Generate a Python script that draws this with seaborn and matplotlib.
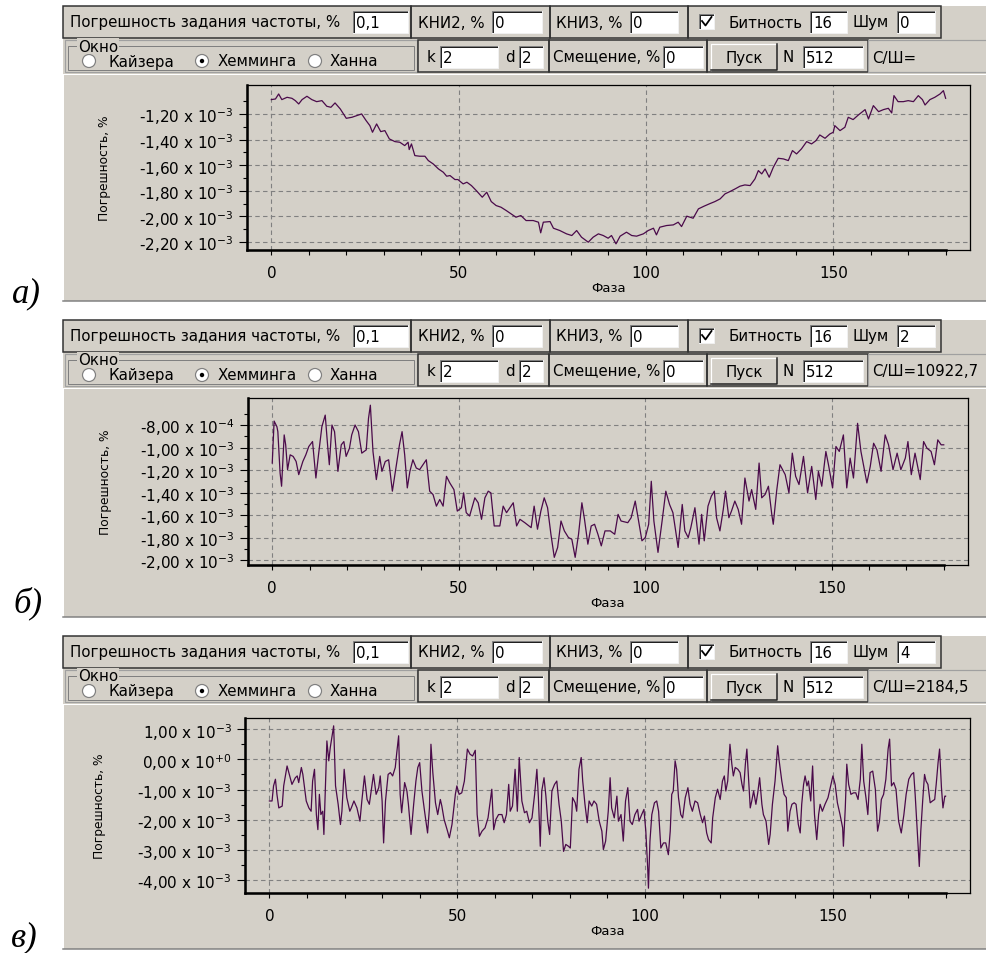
import numpy as np
import pandas as pd
import matplotlib
matplotlib.use("Agg")
import matplotlib.pyplot as plt
import seaborn as sns
from matplotlib.patches import Rectangle, Circle

# ---------------- data (error in units of 1e-3 %) ----------------
phase_a = [0, 1.1, 1.95, 2.8, 4.2, 5.5, 6.4, 7.3, 8.2, 9.5, 10.8, 12.1, 13.5, 14.8, 15.9, 17.0, 18.4, 20.0,
           21.5, 22.8, 24.1, 25.3, 26.3, 27.0, 28.1, 29.2, 30.3, 31.5, 33.0, 34.3, 35.6, 36.5, 36.8, 37.4,
           38.3, 39.6, 41.0, 41.9, 43.2, 44.6, 45.9, 46.8, 47.7, 49.0, 49.8, 51.2, 52.2, 53.4, 54.7, 56.3,
           57.5, 58.7, 60.0, 61.3, 62.7, 64.0, 65.3, 66.6, 68.0, 69.9, 71.3, 71.9, 72.6, 74.4, 75.3, 77.0,
           78.8, 80.2, 81.5, 82.8, 84.6, 85.9, 87.3, 88.6, 89.9, 90.8, 92.0, 93.1, 94.8, 96.2, 97.5, 99.3,
           100.6, 102.0, 102.8, 103.7, 105.5, 107.3, 108.6, 109.5, 110.9, 112.6, 114.0, 115.5, 116.9, 118.4,
           119.8, 121.1, 122.4, 123.8, 125.1, 126.4, 127.8, 129.1, 130.0, 130.9, 131.8, 132.9, 134.0, 135.3,
           136.7, 138.0, 139.1, 140.2, 141.5, 142.9, 144.2, 145.4, 146.4, 147.8, 149.1, 150.0, 150.4, 151.8,
           153.1, 154.0, 155.3, 156.7, 157.6, 158.5, 159.4, 160.7, 162.1, 163.4, 164.7, 165.6, 166.2, 167.3,
           168.7, 170.0, 171.4, 172.7, 173.8, 174.5, 175.8, 177.1, 178.5, 179.4, 180.0]
err_a = [-1.088, -1.083, -1.044, -1.088, -1.070, -1.078, -1.096, -1.122, -1.088, -1.062, -1.088, -1.104,
         -1.096, -1.140, -1.148, -1.114, -1.161, -1.234, -1.226, -1.213, -1.200, -1.252, -1.291, -1.343,
         -1.278, -1.338, -1.330, -1.395, -1.416, -1.421, -1.447, -1.421, -1.478, -1.434, -1.525, -1.530,
         -1.530, -1.564, -1.590, -1.629, -1.655, -1.686, -1.681, -1.712, -1.712, -1.746, -1.733, -1.759,
         -1.798, -1.850, -1.811, -1.884, -1.915, -1.928, -1.954, -1.980, -2.006, -1.993, -2.032, -2.032,
         -2.045, -2.128, -2.045, -2.040, -2.092, -2.110, -2.136, -2.149, -2.110, -2.162, -2.201, -2.162,
         -2.136, -2.149, -2.170, -2.149, -2.214, -2.154, -2.123, -2.149, -2.154, -2.136, -2.110, -2.092,
         -2.144, -2.084, -2.071, -2.066, -2.045, -2.079, -1.998, -2.014, -1.941, -1.920, -1.902, -1.884,
         -1.863, -1.824, -1.806, -1.785, -1.764, -1.754, -1.759, -1.707, -1.642, -1.668, -1.629, -1.694,
         -1.616, -1.546, -1.551, -1.564, -1.486, -1.512, -1.473, -1.416, -1.434, -1.408, -1.364, -1.390,
         -1.356, -1.343, -1.291, -1.330, -1.304, -1.226, -1.244, -1.208, -1.187, -1.166, -1.239, -1.135,
         -1.182, -1.166, -1.156, -1.192, -1.057, -1.104, -1.104, -1.096, -1.104, -1.057, -1.088, -1.130,
         -1.088, -1.070, -1.044, -1.018, -1.078]

phase_b = [0, 0.5, 1.25, 1.5, 2.1, 2.5, 3.2, 3.6, 4.1, 4.8, 5.6, 6.4, 7.1, 8.2, 9.0, 9.8, 10.8, 11.7, 12.4,
           13.3, 14.2, 14.9, 15.3, 16.0, 16.7, 17.6, 18.5, 19.2, 19.8, 20.7, 21.3, 22.2, 23.1, 24.0, 25.2,
           25.8, 26.3, 27.0, 27.9, 28.8, 29.4, 30.3, 31.2, 32.2, 33.0, 34.1, 34.8, 35.5, 36.2, 36.9, 37.7,
           38.6, 39.5, 40.4, 41.3, 42.2, 43.1, 44.0, 44.9, 45.8, 46.7, 47.6, 48.7, 49.6, 50.7, 51.3, 52.0,
           52.9, 54.3, 55.2, 56.1, 57.0, 57.9, 58.6, 59.5, 61.0, 61.9, 62.8, 63.7, 64.6, 65.5, 66.4, 67.7,
           69.4, 70.2, 71.1, 72.0, 72.9, 73.8, 74.7, 75.6, 76.5, 77.4, 78.3, 79.4, 80.3, 81.2, 82.1, 83.0,
           83.7, 84.6, 85.5, 86.4, 87.3, 88.2, 89.2, 90.6, 91.8, 92.7, 93.5, 95.3, 96.2, 97.3, 98.2, 99.1,
           100.0, 100.9, 101.6, 102.3, 103.4, 104.5, 105.5, 106.5, 107.4, 108.8, 109.9, 110.6, 111.5, 112.2,
           113.3, 114.4, 115.1, 115.8, 116.8, 117.7, 118.5, 119.1, 120.0, 120.9, 121.5, 122.4, 123.1, 124.0,
           124.9, 125.8, 126.7, 127.8, 128.5, 129.6, 130.5, 131.2, 132.1, 133.0, 133.9, 134.3, 135.2, 136.1,
           137.5, 138.5, 139.4, 140.3, 141.2, 142.4, 143.5, 144.6, 145.7, 146.4, 147.3, 148.4, 149.1, 150.2,
           151.1, 152.0, 153.1, 154.0, 154.9, 155.8, 156.9, 157.8, 159.4, 160.3, 161.2, 162.1, 163.2, 164.3,
           165.2, 166.4, 167.5, 168.5, 169.7, 170.4, 171.3, 172.3, 173.7, 174.6, 175.5, 176.6, 177.5, 178.4,
           179.3, 180.0]
err_b = [-1.138, -0.765, -0.815, -0.859, -1.226, -1.344, -0.888, -0.976, -1.197, -1.065, -1.079, -1.124,
         -1.241, -1.124, -1.065, -0.991, -0.947, -1.271, -1.065, -0.815, -0.712, -1.006, -1.153, -0.800,
         -0.859, -1.212, -0.976, -0.947, -1.079, -1.006, -0.888, -0.800, -0.859, -1.050, -1.021, -0.741,
         -0.624, -1.035, -1.285, -1.079, -1.212, -1.124, -1.109, -1.388, -1.212, -0.976, -0.859, -1.065,
         -1.359, -1.212, -1.109, -1.182, -1.197, -1.153, -1.109, -1.388, -1.418, -1.521, -1.462, -1.521,
         -1.256, -1.315, -1.374, -1.565, -1.535, -1.403, -1.579, -1.609, -1.447, -1.491, -1.638, -1.447,
         -1.388, -1.403, -1.697, -1.697, -1.521, -1.579, -1.535, -1.491, -1.697, -1.638, -1.668, -1.712,
         -1.521, -1.726, -1.565, -1.447, -1.535, -1.771, -1.976, -1.888, -1.653, -1.741, -1.800, -1.815,
         -1.976, -1.771, -1.491, -1.638, -1.859, -1.697, -1.682, -1.771, -1.874, -1.741, -1.741, -1.771,
         -1.594, -1.653, -1.668, -1.624, -1.476, -1.653, -1.829, -1.800, -1.682, -1.300, -1.653, -1.932,
         -1.653, -1.388, -1.506, -1.579, -1.888, -1.506, -1.741, -1.800, -1.712, -1.535, -1.859, -1.594,
         -1.829, -1.521, -1.432, -1.388, -1.624, -1.741, -1.550, -1.388, -1.624, -1.565, -1.476, -1.550,
         -1.682, -1.271, -1.476, -1.374, -1.550, -1.138, -1.447, -1.418, -1.344, -1.594, -1.682, -1.388,
         -1.153, -1.241, -1.403, -1.050, -1.256, -1.329, -1.079, -1.403, -1.168, -1.462, -1.212, -1.344,
         -1.035, -1.153, -1.359, -0.991, -1.035, -0.888, -1.359, -1.094, -1.271, -0.785, -1.035, -1.315,
         -1.168, -0.962, -1.021, -1.212, -0.888, -0.976, -1.197, -1.050, -1.197, -1.094, -0.947, -1.241,
         -1.050, -1.285, -0.947, -1.006, -1.035, -1.153, -0.932, -0.976, -0.976]

phase_c = [0, 0.7, 1.1, 1.6, 2.0, 2.5, 3.4, 3.8, 4.7, 5.3, 6.0, 6.9, 7.4, 7.8, 8.5, 8.9, 9.8, 10.5, 11.1,
           11.5, 12.0, 12.5, 12.9, 13.3, 13.7, 14.2, 14.5, 15.1, 15.3, 15.8, 16.2, 16.7, 17.1, 17.6, 18.3,
           18.9, 19.3, 19.9, 20.6, 21.4, 21.8, 22.5, 23.3, 24.1, 24.6, 25.3, 26.0, 26.6, 27.1, 27.7, 28.4,
           29.1, 29.5, 30.0, 30.4, 30.9, 31.6, 32.2, 32.8, 33.5, 33.9, 34.4, 34.8, 35.2, 36.0, 36.6, 37.0,
           37.7, 38.4, 39.0, 39.5, 40.0, 40.6, 41.3, 42.1, 42.6, 43.0, 43.5, 44.2, 44.8, 45.5, 45.9, 46.5,
           47.3, 47.9, 48.6, 49.5, 49.9, 50.5, 51.2, 51.9, 52.7, 53.4, 54.1, 54.8, 55.3, 55.9, 56.6, 57.4,
           58.2, 58.8, 59.2, 59.7, 60.3, 61.0, 61.9, 62.5, 63.1, 63.7, 64.1, 64.7, 65.4, 66.0, 66.5, 67.2,
           67.9, 68.5, 69.2, 69.9, 70.6, 71.2, 71.6, 72.1, 72.5, 73.1, 73.6, 74.1, 74.6, 75.2, 75.9, 76.5,
           77.1, 77.7, 78.3, 78.9, 79.6, 80.1, 80.7, 81.4, 81.8, 82.4, 83.0, 83.4, 84.0, 84.6, 85.1, 85.8,
           86.4, 87.1, 87.8, 88.5, 88.9, 89.5, 90.2, 90.7, 91.1, 91.8, 92.5, 92.9, 93.6, 94.2, 94.8, 95.4,
           96.0, 96.6, 97.3, 98.0, 98.4, 99.1, 99.7, 100.2, 100.7, 100.9, 101.3, 101.8, 102.5, 103.1, 103.6,
           104.2, 104.9, 105.5, 106.2, 106.7, 107.1, 107.5, 108.0, 108.4, 108.9, 109.5, 110.0, 110.7, 111.4,
           112.0, 112.6, 113.3, 114.0, 114.7, 115.3, 115.8, 116.4, 116.9, 117.6, 118.0, 118.7, 119.3, 120.0,
           120.6, 121.1, 121.5, 122.0, 122.6, 123.1, 123.5, 124.0, 124.7, 125.3, 125.8, 126.2, 126.7, 127.1,
           127.6, 128.0, 128.4, 128.9, 129.5, 130.0, 130.5, 131.1, 131.5, 132.2, 132.9, 133.3, 133.9, 134.6,
           135.3, 135.7, 136.4, 137.0, 137.6, 138.0, 138.6, 139.1, 139.7, 140.2, 140.8, 141.3, 141.7, 142.2,
           142.6, 143.1, 143.5, 144.1, 144.6, 145.1, 145.7, 146.2, 146.6, 147.2, 147.9, 148.7, 149.3, 150.0,
           150.6, 151.2, 151.9, 152.6, 152.8, 153.3, 153.7, 154.2, 154.8, 155.5, 156.1, 156.7, 157.3, 157.7,
           158.2, 158.8, 159.3, 159.9, 160.6, 161.3, 161.9, 162.4, 162.9, 163.5, 164.1, 164.7, 165.1, 165.6,
           166.2, 166.8, 167.5, 168.2, 168.9, 169.5, 170.2, 170.9, 171.5, 171.9, 172.6, 173.0, 173.4, 173.9,
           174.4, 174.8, 175.3, 175.9, 176.5, 177.1, 177.5, 178.0, 178.4, 178.9, 179.3, 179.8, 180.0]
err_c = [-1.38, -1.38, -0.88, -0.66, -1.16, -1.61, -1.55, -0.88, -0.22, -0.50, -0.83, -0.61, -0.55, -0.77,
         -0.27, -0.50, -1.38, -1.61, -1.72, -0.72, -0.33, -1.83, -2.33, -1.16, -1.83, -1.72, -2.49, -0.16,
         0.61, -0.05, 0.39, 0.78, 1.11, -0.88, -1.49, -2.16, -1.72, -0.33, -1.27, -1.72, -1.61, -1.38,
         -1.61, -2.05, -1.38, -0.55, -1.33, -1.49, -1.05, -0.50, -1.16, -0.94, -0.55, -1.38, -2.77, -1.38,
         -0.50, -0.44, -0.55, -0.27, 0.22, 0.78, -1.16, -1.77, -0.77, -1.05, -1.49, -2.49, -1.49, -0.72,
         -0.27, -0.11, -1.05, -1.72, -2.44, -1.61, 0.50, -0.44, -1.44, -1.83, -1.33, -1.55, -1.99, -2.33,
         -2.60, -2.16, -1.16, -0.88, -1.16, -1.11, -0.72, 0.34, 0.17, 0.11, 0.30, -1.83, -2.55, -2.38,
         -2.27, -1.94, -1.38, -0.99, -2.33, -1.99, -1.83, -1.83, -2.10, -1.83, -0.83, -1.72, -1.55, -0.33,
         -1.72, 0.06, -1.38, -1.77, -1.72, -2.10, -1.94, -1.16, -0.33, -1.27, -2.88, -1.05, -0.61, -1.22,
         -2.05, -2.49, -1.05, -0.83, -0.72, -1.49, -2.05, -3.05, -2.82, -2.88, -2.94, -1.27, -1.44, -1.72,
         -0.33, 0.06, -0.72, -1.49, -2.10, -1.38, -1.55, -1.38, -1.49, -2.05, -2.38, -2.99, -2.71, -1.72,
         -0.61, -1.61, -1.94, -1.22, -2.05, -1.83, -2.71, -1.38, -0.94, -2.05, -2.16, -1.83, -1.66, -2.05,
         -1.83, -1.66, -2.38, -3.60, -4.27, -2.71, -1.83, -1.44, -1.38, -1.72, -2.94, -2.77, -2.77, -3.16,
         -2.38, -1.16, -1.05, -0.05, -0.33, -1.27, -1.83, -1.94, -1.27, -0.94, -1.49, -1.72, -1.38, -1.44,
         -1.83, -2.10, -1.88, -2.44, -2.66, -2.77, -1.94, -1.27, -0.99, -1.33, -0.72, -0.55, -1.05, -0.72,
         0.50, -0.16, -0.55, -0.27, -0.33, -0.44, -0.83, -1.05, -0.16, 0.34, -0.72, -1.61, -1.38, -1.05,
         -1.49, -1.11, -0.61, -1.49, -1.83, -2.05, -2.82, -2.49, -1.49, -0.72, 0.45, -0.05, -0.72, -1.16,
         -1.27, -2.38, -1.72, -1.49, -1.44, -1.49, -2.16, -2.44, -1.49, -0.83, -0.55, -0.88, -0.72, -1.38,
         -0.22, -1.83, -2.66, -1.83, -1.49, -1.72, -1.49, -1.27, -0.94, -0.55, -0.83, -1.44, -1.83, -2.27,
         -2.88, -1.61, -0.16, -0.83, -1.16, -1.11, -1.11, -1.33, -0.66, 0.50, -0.72, -1.27, -1.83, -0.44,
         -0.39, -0.99, -2.38, -2.05, -1.33, -1.16, -0.66, 0.34, 0.67, -0.88, -0.77, -0.99, -2.05, -2.44,
         -1.83, -1.16, -0.66, -0.50, -0.44, -1.16, -2.71, -3.55, -2.38, -1.38, -0.50, -0.72, -0.83, -1.44,
         -1.38, -1.33, -0.83, -0.11, 0.34, -0.94, -1.61, -1.22, -1.22]

# tick values / labels
xticks_major = [0, 50, 100, 150]
xtick_labels = ["0", "50", "100", "150"]
yticks_a = [-1.2, -1.4, -1.6, -1.8, -2.0, -2.2]
ylabels_a = ["-1,20 x 10$^{-3}$", "-1,40 x 10$^{-3}$", "-1,60 x 10$^{-3}$", "-1,80 x 10$^{-3}$",
             "-2,00 x 10$^{-3}$", "-2,20 x 10$^{-3}$"]
yticks_b = [-0.8, -1.0, -1.2, -1.4, -1.6, -1.8, -2.0]
ylabels_b = ["-8,00 x 10$^{-4}$", "-1,00 x 10$^{-3}$", "-1,20 x 10$^{-3}$", "-1,40 x 10$^{-3}$",
             "-1,60 x 10$^{-3}$", "-1,80 x 10$^{-3}$", "-2,00 x 10$^{-3}$"]
yticks_c = [1.0, 0.0, -1.0, -2.0, -3.0, -4.0]
ylabels_c = ["1,00 x 10$^{-3}$", "0,00 x 10$^{+0}$", "-1,00 x 10$^{-3}$", "-2,00 x 10$^{-3}$",
             "-3,00 x 10$^{-3}$", "-4,00 x 10$^{-3}$"]
noise_vals = ["0", "2", "4"]
snr_texts = ["С/Ш=", "С/Ш=10922,7", "С/Ш=2184,5"]
panel_letters = ["а)", "б)", "в)"]

# ---------------- figure ----------------
W, H = 987, 954
GRAY = "#D4D0C8"
DARK = "#303030"
SHADOW = "#808080"
LINE = "#4A0A4A"
UIFS = 10.8

fig = plt.figure(figsize=(W / 100, H / 100), dpi=100)
fig.patch.set_facecolor("white")
bg = fig.add_axes([0, 0, 1, 1], zorder=0)
bg.set_xlim(0, W)
bg.set_ylim(H, 0)
bg.axis("off")

PX = 0.72  # one pixel in points


def rect(x0, y0, x1, y1, fc="none", ec=DARK, lw=1.0, z=1):
    bg.add_patch(Rectangle((x0, y0), x1 - x0, y1 - y0, facecolor=fc, edgecolor=ec,
                           linewidth=lw * PX, zorder=z))


def txt(x, y, s, fs=UIFS, **kw):
    bg.text(x, y, s, fontsize=fs, va="center", ha="left", color="black",
            family="DejaVu Sans", zorder=5, **kw)


def field(x0, y0, x1, y1, s):
    rect(x0, y0, x1, y1, fc="white", ec="none", z=2)
    bg.plot([x0, x0, x1], [y1, y0, y0], color=SHADOW, lw=PX, zorder=3)
    bg.plot([x0 + 1, x0 + 1, x1 - 1], [y1 - 1, y0 + 1, y0 + 1], color="#202020", lw=PX, zorder=3)
    bg.plot([x0, x1, x1], [y1, y1, y0], color="#F0F0F0", lw=PX, zorder=3)
    txt(x0 + 3, (y0 + y1) / 2 + 0.5, s)


def radio(cx, cy, on):
    bg.add_patch(Circle((cx, cy), 6.5, facecolor="white", edgecolor=SHADOW, linewidth=1.2 * PX, zorder=3))
    if on:
        bg.add_patch(Circle((cx, cy), 2.2, facecolor="black", edgecolor="none", zorder=4))


def ui_panel(T, B, noise, snr):
    rect(63, T, W, B, fc=GRAY, ec="none", z=0.5)
    # row 1
    r1a, r1b = T, T + 32
    for x0, x1 in [(63, 411), (411, 550), (550, 688), (688, 941)]:
        rect(x0, r1a, x1, r1b, ec=DARK, lw=1.5)
    txt(70, T + 16, "Погрешность задания частоты, %")
    field(353, T + 5, 408, T + 27, "0,1")
    txt(418, T + 16, "КНИ2, %")
    field(492, T + 5, 542, T + 27, "0")
    txt(556, T + 16, "КНИЗ, %")
    field(630, T + 5, 678, T + 27, "0")
    field(699, T + 8, 714, T + 23, "")
    bg.plot([702, 705.5, 711.5], [T + 15, T + 19.5, T + 11], color="black", lw=1.8 * PX, zorder=4)
    txt(729, T + 16, "Битность")
    field(810, T + 5, 847, T + 27, "16")
    txt(853, T + 16, "Шум")
    field(897, T + 5, 935, T + 27, noise)
    # row 2
    r2a, r2b = T + 34, T + 66
    rect(65, r2a, 417, r2b, ec="#A0A0A0", lw=1.2)
    rect(68, T + 40, 414, T + 64, ec=SHADOW, lw=1.0)
    bg.text(78, T + 40, "Окно", fontsize=UIFS, va="center", ha="left", family="DejaVu Sans", zorder=5,
            bbox=dict(facecolor=GRAY, edgecolor="none", pad=0.5))
    radio(89, T + 55, False)
    txt(108, T + 55, "Кайзера")
    radio(202, T + 55, True)
    txt(218, T + 55, "Хемминга")
    radio(315, T + 55, False)
    txt(330, T + 55, "Ханна")
    for x0, x1 in [(418, 549), (549, 707), (707, 868)]:
        rect(x0, r2a, x1, r2b, ec=DARK, lw=1.5)
    rect(868, r2a, W, r2b, ec="#A0A0A0", lw=1.2)
    txt(427, T + 51, "k")
    field(440, T + 40, 498, T + 62, "2")
    txt(505, T + 51, "d")
    field(519, T + 40, 543, T + 62, "2")
    txt(553, T + 51, "Смещение, %")
    field(663, T + 40, 703, T + 62, "0")
    # button
    rect(711, T + 38, 777, T + 64, fc=GRAY, ec="none", z=2)
    bg.plot([711, 711, 777], [T + 64, T + 38, T + 38], color="white", lw=1.2 * PX, zorder=3)
    bg.plot([711, 777, 777], [T + 64, T + 64, T + 38], color="#202020", lw=1.5 * PX, zorder=3)
    bg.text(744, T + 52, "Пуск", fontsize=UIFS, va="center", ha="center", family="DejaVu Sans", zorder=5)
    txt(782, T + 51, "N")
    field(803, T + 40, 863, T + 62, "512")
    txt(872, T + 51, snr)
    # plot area frame
    bg.plot([63, W], [T + 68, T + 68], color="white", lw=PX, zorder=1)
    bg.plot([63, 63], [T + 68, B], color="white", lw=PX, zorder=1)
    bg.plot([63, W], [B, B], color=SHADOW, lw=1.5 * PX, zorder=1)


tops = [7, 321, 637]
bottoms = [302, 618, 950]
for T, B, nz, snr in zip(tops, bottoms, noise_vals, snr_texts):
    ui_panel(T, B, nz, snr)

for (lx, ly), s in zip([(26, 302), (28, 612), (24, 946)], panel_letters):
    bg.text(lx, ly, s, fontsize=25, style="italic", family="Liberation Serif", va="baseline",
            ha="center", color="black", zorder=5)

# ---------------- chart axes ----------------
axes_px = [(247, 86, 970, 251), (248, 399, 968, 566), (245, 719, 970, 894)]
ylims = [(-2.262, -0.974), (-2.044, -0.56), (-4.43, 1.37)]
yticks_all = [yticks_a, yticks_b, yticks_c]
ylabels_all = [ylabels_a, ylabels_b, ylabels_c]
yminor_all = [[-1.1, -1.3, -1.5, -1.7, -1.9, -2.1],
              [-0.7, -0.9, -1.1, -1.3, -1.5, -1.7, -1.9],
              [0.5, -0.5, -1.5, -2.5, -3.5]]
ylab_x = [-0.188, -0.189, -0.192]
series = [(phase_a, err_a), (phase_b, err_b), (phase_c, err_c)]

XMIN, XMAX = -6.5, 186.5
for i, ((l, t, r, b), (ph, er)) in enumerate(zip(axes_px, series)):
    ax = fig.add_axes([l / W, 1 - b / H, (r - l) / W, (b - t) / H], zorder=2)
    ax.set_facecolor(GRAY)
    df = pd.DataFrame({"Фаза": ph, "Погрешность": er})
    sns.lineplot(data=df, x="Фаза", y="Погрешность", ax=ax, color=LINE, linewidth=0.9, zorder=3)
    ax.set_xlim(XMIN, XMAX)
    ax.set_ylim(*ylims[i])
    ax.set_xticks(xticks_major)
    ax.set_xticklabels(xtick_labels)
    ax.set_xticks(np.arange(0, 181, 10), minor=True)
    ax.set_yticks(yticks_all[i])
    ax.set_yticklabels(ylabels_all[i])
    ax.set_yticks(yminor_all[i], minor=True)
    ax.set_axisbelow(True)
    ax.grid(True, which="major", color="#808080", linestyle=(0, (4, 3)), linewidth=0.8)
    ax.tick_params(axis="y", which="major", length=5.5, width=0.8, pad=4, labelsize=11,
                   direction="out", colors="black")
    ax.tick_params(axis="y", which="minor", length=3, width=0.8, direction="out")
    ax.tick_params(axis="x", which="both", length=3.5, width=0.8, pad=7, labelsize=11,
                   direction="out", colors="black")
    for s in ax.spines.values():
        s.set_color("black")
        s.set_linewidth(0.9)
    # thicker axis lines (left and bottom up to phase 180)
    xfrac = (180 - XMIN) / (XMAX - XMIN)
    ax.plot([0, 0], [0, 1], transform=ax.transAxes, color="black", lw=1.8, clip_on=False, zorder=5)
    ax.plot([0, xfrac], [0, 0], transform=ax.transAxes, color="black", lw=1.8, clip_on=False, zorder=5)
    ax.set_xlabel("Фаза", fontsize=9.5, labelpad=1)
    ax.set_ylabel("Погрешность, %", fontsize=8.8)
    ax.yaxis.set_label_coords(ylab_x[i], 0.5)

fig.savefig("out.png", dpi=100, facecolor="white")
